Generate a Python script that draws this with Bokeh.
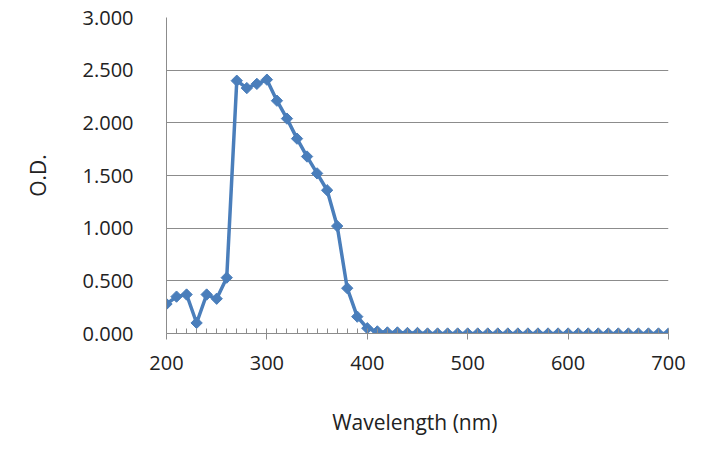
import math
from bokeh.plotting import figure
from bokeh.models import NumeralTickFormatter, SingleIntervalTicker, FixedTicker
from bokeh.embed import file_html
from bokeh.resources import INLINE

wavelength = list(range(200, 701, 10))
od = [0.28, 0.35, 0.37, 0.10, 0.37, 0.33, 0.53, 2.40, 2.33, 2.37,
      2.41, 2.21, 2.04, 1.85, 1.68, 1.52, 1.36, 1.02, 0.43, 0.16,
      0.05, 0.02, 0.01, 0.01, 0.005, 0.005, 0.0, 0.0, 0.0, 0.0,
      0.0, 0.0, 0.0, 0.0, 0.0, 0.0, 0.0, 0.0, 0.0, 0.0,
      0.0, 0.0, 0.0, 0.0, 0.0, 0.0, 0.0, 0.0, 0.0, 0.0, 0.0]
y_ticks = [0, 0.5, 1.0, 1.5, 2.0, 2.5, 3.0]

FONT = "Open Sans"
blue = "#4a7ebb"
gray = "#8c8c8c"

p = figure(width=697, height=439, output_backend="svg", toolbar_location=None,
           x_range=(200, 700), y_range=(0, 3.0),
           min_border_left=166, min_border_top=17, min_border_right=29, min_border_bottom=106)
p.outline_line_color = None
p.background_fill_color = "white"
p.border_fill_color = "white"

p.line(wavelength, od, line_color=blue, line_width=3.5)
p.scatter(wavelength, od, marker="square", angle=math.pi / 4, size=8,
          fill_color=blue, line_color=blue)

p.xgrid.grid_line_color = None
p.ygrid.grid_line_color = gray
p.ygrid.grid_line_width = 1
p.ygrid.ticker = FixedTicker(ticks=y_ticks)

p.xaxis.ticker = SingleIntervalTicker(interval=100, num_minor_ticks=10)
p.xaxis.major_tick_in = 0
p.xaxis.major_tick_out = 6
p.xaxis.minor_tick_in = 5
p.xaxis.minor_tick_out = 0
p.xaxis.axis_line_color = gray
p.xaxis.major_tick_line_color = gray
p.xaxis.minor_tick_line_color = gray
p.xaxis.major_label_standoff = 16
p.xaxis.axis_label = "Wavelength  (nm)"
p.xaxis.axis_label_standoff = 35

p.yaxis.ticker = FixedTicker(ticks=y_ticks)
p.yaxis.formatter = NumeralTickFormatter(format="0.000")
p.yaxis.major_tick_in = 0
p.yaxis.major_tick_out = 0
p.yaxis.minor_tick_line_color = None
p.yaxis.axis_line_color = gray
p.yaxis.major_label_standoff = 33
p.yaxis.axis_label = "O.D."
p.yaxis.axis_label_standoff = 28

for ax in (p.xaxis, p.yaxis):
    ax.major_label_text_font = FONT
    ax.major_label_text_font_size = "20px"
    ax.major_label_text_color = "#222222"
    ax.axis_label_text_font = FONT
    ax.axis_label_text_font_size = "21px"
    ax.axis_label_text_font_style = "normal"
    ax.axis_label_text_color = "#222222"

open("out.html", "w").write(file_html(p, INLINE))
